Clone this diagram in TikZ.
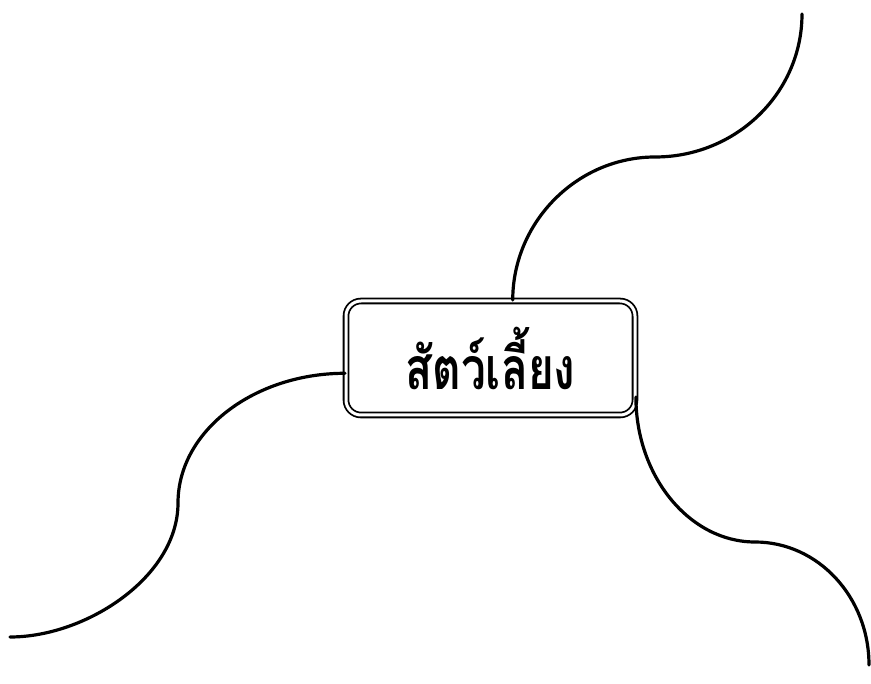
\documentclass[tikz,border=0pt]{standalone}
\usepackage{fontspec}
\newfontfamily\thaifont[Script=Thai]{Loma}
\begin{document}
\begin{tikzpicture}[x=1pt,y=-1pt,
  central/.style={draw, line width=1.8pt, double=white, double distance=3pt,
    rounded corners=15pt, minimum width=289pt, minimum height=114pt,
    inner sep=0pt, font=\thaifont\bfseries\fontsize{46}{50}\selectfont},
  branch/.style={line width=3.2pt, line cap=round}]
\useasboundingbox (0,0) rectangle (871,684);
\node[central] (n) at (490.5,358) {\raisebox{-2pt}{\scalebox{0.96}[1.28]{สัตว์เลี้ยง}}};
\coordinate (tm) at (655,157);
\coordinate (te) at (802,14);
\coordinate (lm) at (178,503);
\coordinate (le) at (10,637);
\coordinate (rm) at (755,542);
\coordinate (re) at (869,665);
\draw[branch] (n.69) .. controls ++(0,-78) and ++(-78,0) .. (tm)
  .. controls ++(81,0) and ++(0,79) .. (te);
\draw[branch] (n.186) .. controls ++(-91,0) and ++(0,-72) .. (lm)
  .. controls ++(0,74) and ++(76,0) .. (le);
\draw[branch] (n.-15) .. controls ++(0,80) and ++(-65,0) .. (rm)
  .. controls ++(63,0) and ++(0,-68) .. (re);
\end{tikzpicture}
\end{document}
